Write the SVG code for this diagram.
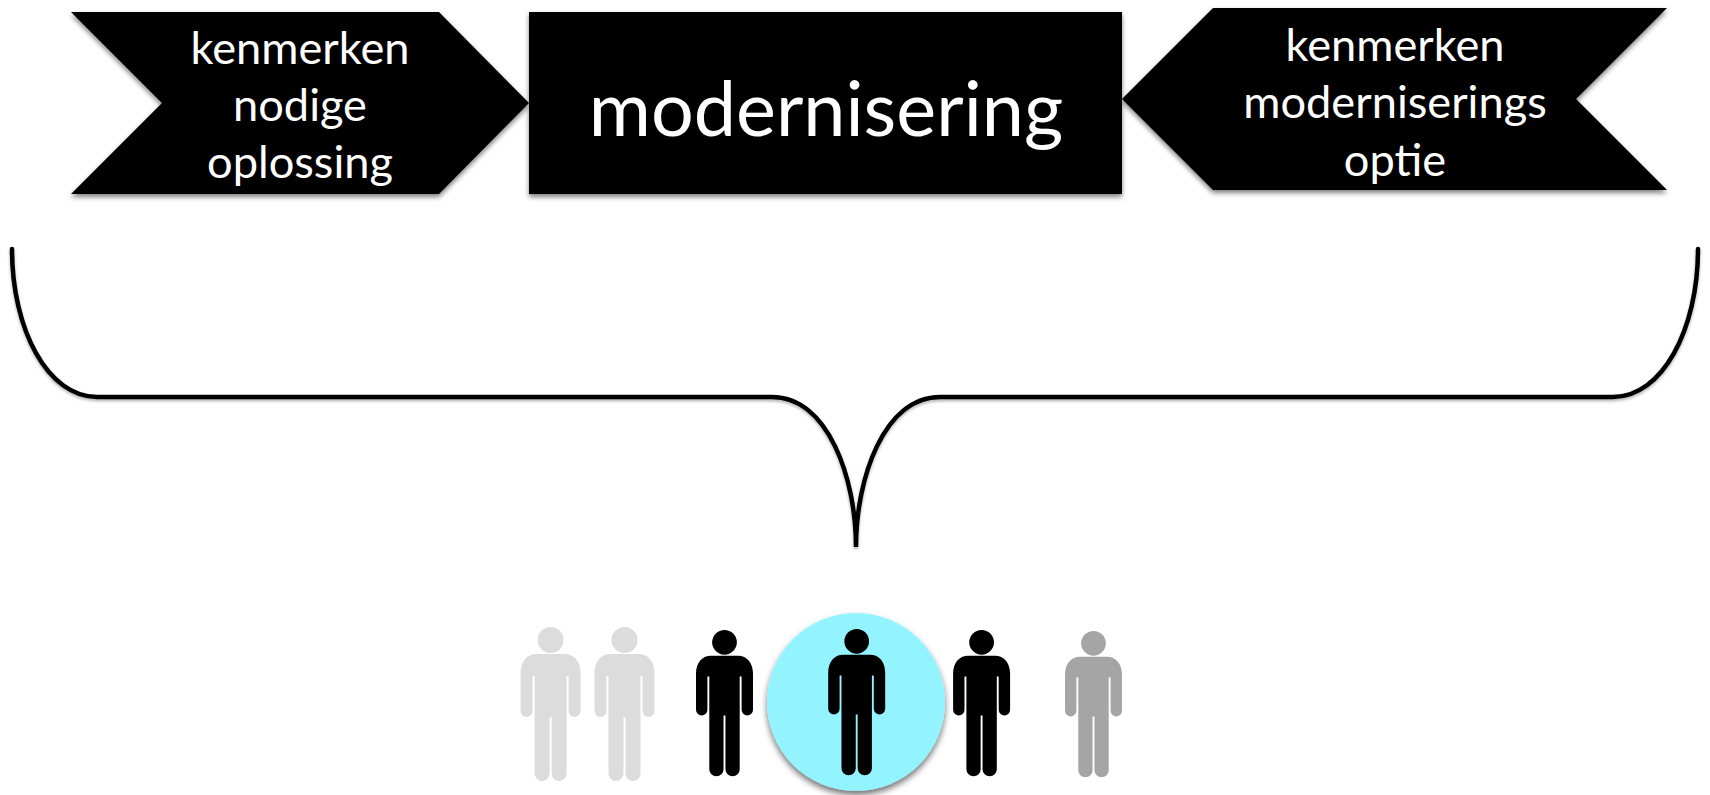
<svg xmlns="http://www.w3.org/2000/svg" xmlns:xlink="http://www.w3.org/1999/xlink" width="1710" height="795" viewBox="0 0 1710 795">
<style>
.t{font-family:"Lato","Carlito","Liberation Sans",sans-serif;fill:#fff;text-anchor:middle}
.s{font-size:45.200px}
.shape{fill:#000;filter:url(#sh)}
.brace{fill:none;stroke:#000;stroke-width:4.500;stroke-linecap:round;filter:url(#sh2)}
</style>
<defs>
<filter id="sh" x="-10%" y="-10%" width="120%" height="125%"><feDropShadow dx="0" dy="3" stdDeviation="2.500" flood-color="#000" flood-opacity=".5"/></filter>
<filter id="sh3" x="-10%" y="-10%" width="120%" height="125%"><feDropShadow dx="0" dy="4" stdDeviation="3" flood-color="#000" flood-opacity=".55"/></filter>
<filter id="sh2" x="-5%" y="-5%" width="110%" height="115%"><feDropShadow dx="0" dy="2" stdDeviation="1.500" flood-color="#000" flood-opacity=".3"/></filter>
<g id="person">
<ellipse cx="0" cy="13" rx="13" ry="13"/>
<path d="M-14 27H14C24 27 30 35 30 46V84A6 6 0 0 1 18 84V49H16V146.500A7.500 7.500 0 0 1 1 146.500V90H-1V146.500A7.500 7.500 0 0 1-16 146.500V49H-18V84A6 6 0 0 1-30 84V46C-30 35-24 27-14 27Z"/>
</g>
</defs>
<g id="connectors">
<path class="brace" d="M12 249C12 330 48 397 97 397H772C828 397 856 478 856 547C856 478 884 397 940 397H1613C1662 397 1698 330 1698 249"/>
</g>
<g id="node-left">
<polygon class="shape" points="71,12 439,12 529,103 439,194 71,194 162,103"/>
<text class="t s" x="300" y="64">kenmerken</text>
<text class="t s" x="300" y="121">nodige</text>
<text class="t s" x="300" y="178">oplossing</text>
</g>
<g id="node-center">
<rect class="shape" x="529" y="12" width="593" height="182"/>
<text class="t" x="826" y="136" font-size="75.500">modernisering</text>
</g>
<g id="node-right">
<polygon class="shape" points="1213,8 1667,8 1576,99 1667,190 1213,190 1122,99"/>
<text class="t s" x="1395" y="61">kenmerken</text>
<text class="t s" x="1395" y="118">moderniserings</text>
<text class="t s" x="1395" y="176">optie</text>
</g>
<g id="node-highlight">
<circle cx="856" cy="702" r="89" fill="#93f3ff" filter="url(#sh3)"/>
</g>
<use id="person-1" xlink:href="#person" href="#person" fill="#dcdcdc" transform="translate(550.600 627)"/>
<use id="person-2" xlink:href="#person" href="#person" fill="#dcdcdc" transform="translate(624.500 627)"/>
<use id="person-3" xlink:href="#person" href="#person" fill="#000" transform="translate(724.500 630) scale(.95)"/>
<use id="person-4" xlink:href="#person" href="#person" fill="#000" transform="translate(856.700 629) scale(.95)"/>
<use id="person-5" xlink:href="#person" href="#person" fill="#000" transform="translate(981.600 630) scale(.95)"/>
<use id="person-6" xlink:href="#person" href="#person" fill="#a5a5a5" transform="translate(1093.500 631) scale(.95)"/>
</svg>
